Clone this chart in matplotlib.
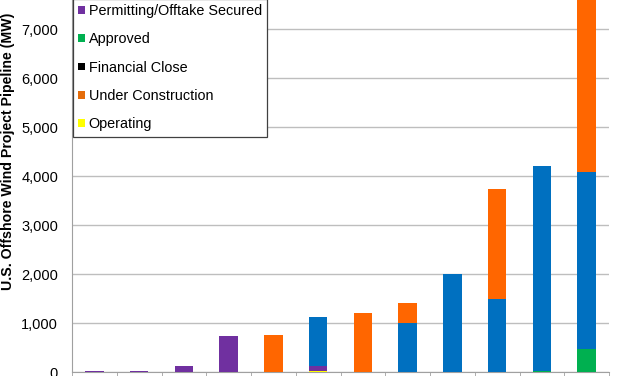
import numpy as np
import matplotlib
matplotlib.use("Agg")
import matplotlib.pyplot as plt
from matplotlib.ticker import FuncFormatter, FixedLocator

plt.rcParams['font.family'] = ['Liberation Sans', 'DejaVu Sans']

# 12 columns, labels are cropped off in the reference
n = 12
operating    = [0, 0, 0, 0, 0, 25, 0, 0, 0, 0, 0, 0]
under_const  = [0, 0, 0, 0, 0, 0, 0, 0, 0, 0, 0, 0]
fin_close    = [0, 0, 0, 0, 0, 0, 0, 0, 0, 0, 0, 0]
approved     = [0, 0, 0, 0, 0, 0, 0, 0, 0, 0, 20, 470]
permitting   = [25, 25, 120, 745, 0, 100, 0, 0, 10, 0, 0, 0]
site_control = [0, 0, 0, 0, 0, 995, 0, 1000, 1995, 1490, 4190, 3610]
early_stage  = [0, 0, 0, 0, 760, 0, 1210, 408, 0, 2255, 0, 3870]

series = [
    (operating, '#FFFF00', 'Operating'),
    (under_const, '#E46C0A', 'Under Construction'),
    (fin_close, '#000000', 'Financial Close'),
    (approved, '#00B050', 'Approved'),
    (permitting, '#7030A0', 'Permitting/Offtake Secured'),
    (site_control, '#0070C0', '_nolegend_'),
    (early_stage, '#FF6600', '_nolegend_'),
]

fig = plt.figure(figsize=(6.27, 3.76), dpi=100)
ax = fig.add_axes([72 / 627, 3.7 / 376, 537 / 627, 392.3 / 376])

x = np.arange(n)
bottom = np.zeros(n)
handles = []
for vals, col, lab in series:
    vals = np.array(vals, dtype=float)
    b = ax.bar(x, vals, 0.41, bottom=bottom, color=col, label=lab, zorder=3)
    bottom += vals
    if not lab.startswith('_'):
        handles.append(b)

ax.set_xlim(-0.5, n - 0.5)
ax.set_ylim(0, 8000)
ax.set_yticks(range(0, 7001, 1000))
ax.yaxis.set_major_formatter(FuncFormatter(lambda v, p: f'{int(v):,}'))
ax.grid(axis='y', color='#BEBEBE', lw=1, zorder=0)
ax.tick_params(axis='y', length=0, pad=10, labelsize=10.5)

ax.set_xticks([])
ax.xaxis.set_minor_locator(FixedLocator(np.arange(-0.5, n, 1)))
ax.tick_params(axis='x', which='minor', length=4, color='#A0A0A0', direction='out')

for s in ['top', 'right']:
    ax.spines[s].set_visible(False)
ax.spines['left'].set_color('#A0A0A0')
ax.spines['bottom'].set_color('#A0A0A0')

ax.set_ylabel('U.S. Offshore Wind Project Pipeline (MW)', fontsize=10.2, fontweight='bold')
ax.yaxis.set_label_coords(-0.106, (372.3 - 151.5) / 392.3)

leg = ax.legend(handles[::-1], [h.get_label() for h in handles[::-1]],
                loc='lower left', bbox_to_anchor=(72.7 / 627, (376 - 136.7) / 376),
                bbox_transform=fig.transFigure, fontsize=10.4, fancybox=False,
                framealpha=1, edgecolor='#404040', handlelength=0.45, handleheight=0.45,
                handletextpad=0.25, labelspacing=0.98, borderpad=0.4, borderaxespad=0)
leg.get_frame().set_linewidth(0.9)

fig.savefig('out.png', dpi=100)
